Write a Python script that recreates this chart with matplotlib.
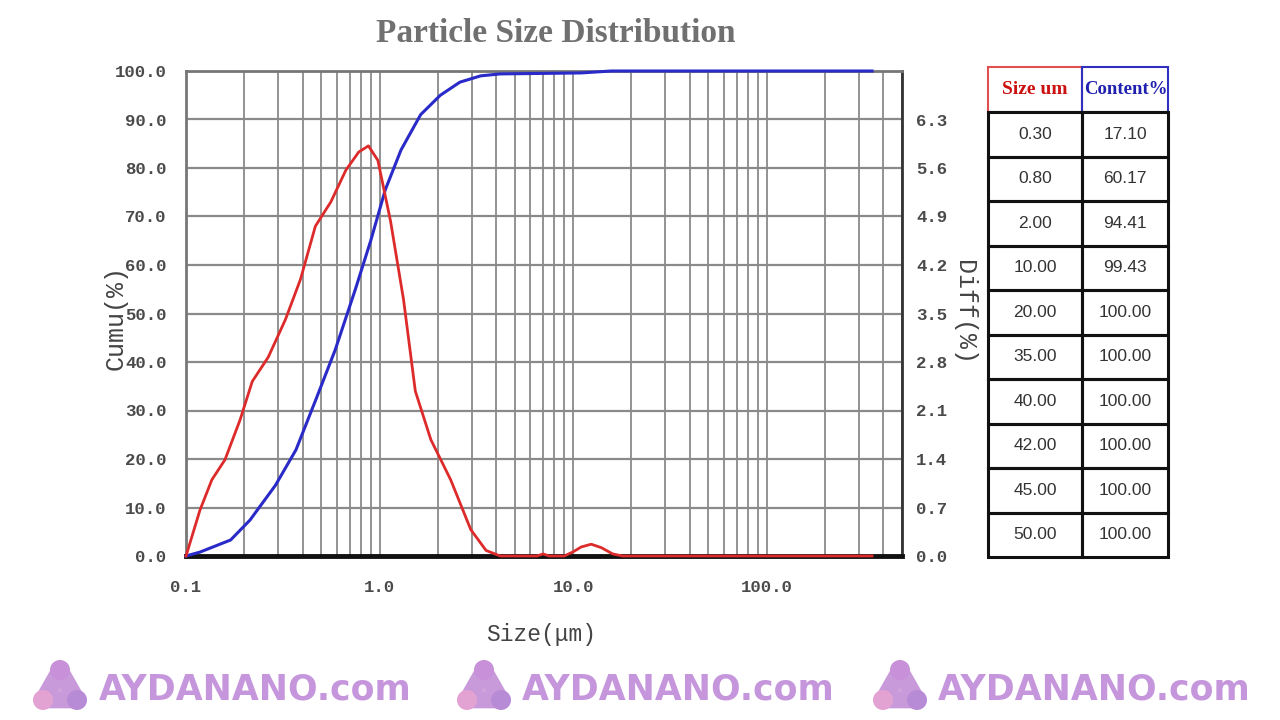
import matplotlib
matplotlib.use("Agg")
import matplotlib.pyplot as plt
import numpy as np
from matplotlib.patches import Rectangle, Circle, Polygon
from matplotlib.ticker import FixedLocator, NullFormatter

# ---------------- data ----------------
size_red = [0.1, 0.118, 0.136, 0.159, 0.19, 0.22, 0.266, 0.326, 0.39, 0.466, 0.56,
            0.67, 0.78, 0.876, 0.98, 1.14, 1.33, 1.53, 1.84, 2.33, 2.96, 3.55, 4.2,
            6.5, 7.0, 7.5, 9.0, 10.0, 11.0, 12.4, 14.0, 16.0, 18.0, 350.0]
diff_pct = [0.0, 0.66, 1.10, 1.39, 1.96, 2.52, 2.87, 3.41, 3.99, 4.76, 5.11,
            5.57, 5.83, 5.92, 5.71, 4.83, 3.70, 2.38, 1.68, 1.10, 0.38, 0.08, 0.0,
            0.0, 0.03, 0.0, 0.0, 0.06, 0.13, 0.17, 0.12, 0.03, 0.0, 0.0]

size_blue = [0.1, 0.118, 0.17, 0.214, 0.29, 0.37, 0.466, 0.59, 0.75, 0.9, 1.07,
             1.29, 1.63, 2.06, 2.6, 3.33, 4.2, 11.0, 15.7, 350.0]
cumu_pct = [0.0, 0.8, 3.3, 7.4, 14.6, 21.9, 32.0, 42.5, 55.0, 65.0, 75.5,
            83.7, 91.0, 95.0, 97.7, 99.0, 99.4, 99.6, 100.0, 100.0]

cumu_ticks = [0, 10, 20, 30, 40, 50, 60, 70, 80, 90, 100]
diff_ticks = [0.0, 0.7, 1.4, 2.1, 2.8, 3.5, 4.2, 4.9, 5.6, 6.3]
x_ticks = [0.1, 1.0, 10.0, 100.0]
x_ticklabels = ["0.1", "1.0", "10.0", "100.0"]

table_sizes = ["0.30", "0.80", "2.00", "10.00", "20.00", "35.00", "40.00", "42.00", "45.00", "50.00"]
table_content = ["17.10", "60.17", "94.41", "99.43", "100.00", "100.00", "100.00", "100.00", "100.00", "100.00"]

W, H = 1280, 720
fig = plt.figure(figsize=(12.8, 7.2), dpi=100)
fig.patch.set_facecolor("white")

mono = ["Liberation Mono", "DejaVu Sans Mono"]
serif = ["Liberation Serif", "DejaVu Serif"]
narrow = ["Liberation Sans Narrow", "Liberation Sans", "DejaVu Sans"]

# main axes
x0, x1, y0, y1 = 186, 902, 556, 71
ax = fig.add_axes([x0 / W, 1 - y0 / H, (x1 - x0) / W, (y0 - y1) / H])
ax.set_xscale("log")
ax.set_xlim(0.1, 500)
ax.set_ylim(0, 100)

# grid lines
minor = []
for dec in [0.1, 1, 10, 100]:
    for m in range(1, 10):
        v = dec * m
        if v <= 500:
            minor.append(v)
for v in minor[1:]:
    ax.axvline(v, color="#8a8a8a", lw=1.3, zorder=1)
for t in cumu_ticks[1:]:
    ax.axhline(t, color="#8a8a8a", lw=1.6, zorder=1)

ax.xaxis.set_major_locator(FixedLocator(x_ticks))
ax.xaxis.set_minor_formatter(NullFormatter())
ax.set_xticks(x_ticks)
ax.set_xticklabels(x_ticklabels)
ax.tick_params(axis="x", which="both", length=0, pad=17, labelsize=12.5, labelcolor="#4a4a4a")
ax.set_yticks(cumu_ticks)
ax.set_yticklabels([f"{t:.1f}" for t in cumu_ticks])
ax.tick_params(axis="y", length=0, pad=14, labelsize=12.5, labelcolor="#4a4a4a")
for lab in ax.get_xticklabels() + ax.get_yticklabels():
    lab.set_family(mono)
    lab.set_fontweight("bold")

for s in ["left", "top"]:
    ax.spines[s].set_color("#777777")
    ax.spines[s].set_linewidth(2)
ax.spines["right"].set_color("#333333")
ax.spines["right"].set_linewidth(2)
ax.spines["bottom"].set_color("#111111")
ax.spines["bottom"].set_linewidth(3.5)

ax.plot(size_blue, cumu_pct, color="#2a2ac8", lw=2.2, zorder=4, clip_on=False)

ax2 = ax.twinx()
ax2.set_ylim(0, 7.0)
ax2.set_yticks(diff_ticks)
ax2.set_yticklabels([f"{t:.1f}" for t in diff_ticks])
ax2.tick_params(axis="y", length=0, pad=10, labelsize=12.5, labelcolor="#4a4a4a")
for lab in ax2.get_yticklabels():
    lab.set_family(mono)
    lab.set_fontweight("bold")
for s in ax2.spines.values():
    s.set_visible(False)
ax2.plot(size_red, diff_pct, color="#dd2a2a", lw=2.0, zorder=3, clip_on=False)

ax.set_zorder(2)
ax2.set_zorder(3)
ax2.patch.set_visible(False)

# overlay axes in pixel coordinates
ov = fig.add_axes([0, 0, 1, 1], zorder=10)
ov.set_xlim(0, W)
ov.set_ylim(H, 0)
ov.axis("off")
ov.patch.set_visible(False)

ov.text(556, 34, "Particle Size Distribution", ha="center", va="center",
        fontsize=24, fontweight="bold", color="#707070", family=serif)
ov.text(541, 634, "Size(\u03bcm)", ha="center", va="center", fontsize=16.5,
        color="#444444", family=mono)
ov.text(116, 318, "Cumu(%)", ha="center", va="center", fontsize=18,
        color="#444444", family=mono, rotation=90)
ov.text(964, 312, "Diff(%)", ha="center", va="center", fontsize=18,
        color="#444444", family=mono, rotation=-90)

# table
tx0, tmid, tx1 = 988, 1082, 1168
hy0, hy1 = 67, 112
ov.add_patch(Rectangle((tx0, hy0), tmid - tx0, hy1 - hy0, fill=False, ec="#e05050", lw=1.5))
ov.add_patch(Rectangle((tmid, hy0), tx1 - tmid, hy1 - hy0, fill=False, ec="#3030c0", lw=1.5))
ov.text((tx0 + tmid) / 2, (hy0 + hy1) / 2, "Size um", ha="center", va="center",
        fontsize=14, fontweight="bold", color="#cc1010", family=serif)
ov.text((tmid + tx1) / 2 + 1, (hy0 + hy1) / 2, "Content%", ha="center", va="center",
        fontsize=13.5, fontweight="bold", color="#2020b0", family=serif)
row_h = (557 - hy1) / len(table_sizes)
for i, (s, c) in enumerate(zip(table_sizes, table_content)):
    ry = hy1 + i * row_h
    ov.add_patch(Rectangle((tx0, ry), tmid - tx0, row_h, fill=False, ec="#111111", lw=2.2))
    ov.add_patch(Rectangle((tmid, ry), tx1 - tmid, row_h, fill=False, ec="#111111", lw=2.2))
    ov.text((tx0 + tmid) / 2, ry + row_h / 2, s, ha="center", va="center",
            fontsize=12.5, color="#333333", family=narrow)
    ov.text((tmid + tx1) / 2, ry + row_h / 2, c, ha="center", va="center",
            fontsize=12.5, color="#333333", family=narrow)

# watermarks
def logo(cx, cy):
    pts = [(cx - 17, cy + 14), (cx + 17, cy + 14), (cx, cy - 16)]
    ov.add_patch(Polygon(pts, closed=True, fc="#d3a3dc", ec="#c99ad9", lw=12, joinstyle="round"))
    for (px, py), col in zip(pts, ["#e2a3d3", "#b88bd6", "#c890d8"]):
        ov.add_patch(Circle((px, py), 10, fc=col, ec="none"))

for lx, tx in [(60, 255), (484, 678), (900, 1094)]:
    logo(lx, 686)
    ov.text(tx, 689, "AYDANANO.com", ha="center", va="center", fontsize=25,
            fontweight="bold", color="#c596dc", family=["DejaVu Sans"])

fig.savefig("out.png", dpi=100, facecolor="white")
